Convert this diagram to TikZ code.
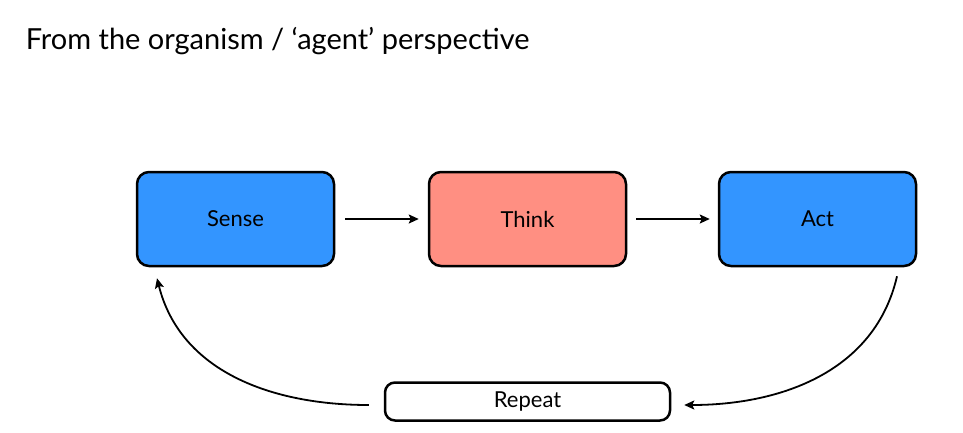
\documentclass[tikz,border=0pt]{standalone}
\usepackage{fontspec}
\setmainfont{Lato}
\usetikzlibrary{positioning}
\usetikzlibrary{arrows,arrows.meta}
\definecolor{senseblue}{RGB}{51,149,255}
\definecolor{thinkred}{RGB}{255,143,130}
\tikzset{
        every path/.style={line width=1.5pt},
        }
\begin{document}
\begin{tikzpicture}[x=1pt,y=-1pt,
	box/.style={draw,line width=2.5pt,rounded corners=12pt,minimum width=197pt,minimum height=94pt,font=\fontsize{22}{26}\selectfont},
	arr/.style={-{Stealth[length=10pt,width=9pt,inset=2pt]},line width=1.8pt}]

		\useasboundingbox (0,0) rectangle (963,432);

		% title.....................
		\node [anchor=base west,inner sep=0pt,font=\fontsize{29}{34}\selectfont] (title) at (25,49) {From the organism / ‘agent’ perspective};

		% boxes.....................
		\node [box,fill=senseblue] (sense) at (235.5,219) {Sense};
		\node [box,fill=thinkred] (think) at (527.5,219) {Think};
		\node [box,fill=senseblue] (act) at (817.5,219) {Act};

		% repeat box....................
		\node [draw,line width=2.5pt,rounded corners=10pt,minimum width=285pt,minimum height=38pt,font=\fontsize{22}{26}\selectfont] (repeat) at (527.5,401.5) {Repeat};

		% straight arrows...................
		\draw [arr,shorten <=10pt,shorten >=9pt] (sense) -- (think);
		\draw [arr,shorten <=9pt,shorten >=8pt] (think) -- (act);

		% loop back.............
		\draw [arr] ([xshift=-15pt,yshift=-3.5pt]repeat.west) to [out=180,in=-76] ([xshift=-78.5pt,yshift=-11pt]sense.south);
		\draw [arr] ([xshift=79.5pt,yshift=-9pt]act.south) to [out=-103,in=0] ([xshift=13pt,yshift=-3.5pt]repeat.east);

	\end{tikzpicture}
\end{document}
